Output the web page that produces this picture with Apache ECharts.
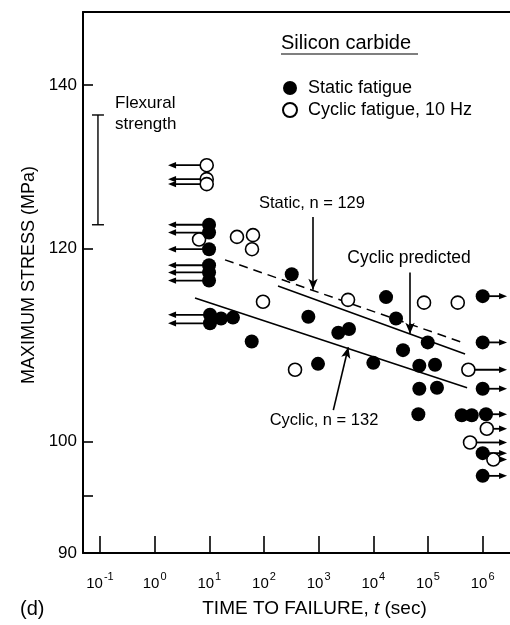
<!DOCTYPE html>
<html>
<head>
<meta charset="utf-8">
<title>Silicon carbide - static and cyclic fatigue</title>
<script src="https://cdn.jsdelivr.net/npm/echarts@6.0.0/dist/echarts.min.js"></script>
<style>
  html, body { margin: 0; padding: 0; background: #fff; }
  #chart { width: 510px; height: 625px; }
</style>
</head>
<body>
<div id="chart"></div>
<script>
// each point: time to failure t (sec), max stress (MPa), arrow (-1 left, 1 right, 0 none)
var staticFatigue = [
    [9.9, 122.7, -1], [9.9, 121.8, -1], [9.9, 119.9, -1], [9.9, 118.1, -1], [9.9, 117.3, -1], [9.9, 116.4, -1],
    [10.3, 112.7, -1], [10.3, 111.8, -1], [16.4, 112.3, 0], [27.1, 112.4, 0],
    [59.7, 109.9, 0], [322, 117.1, 0], [648, 112.5, 0], [974, 107.6, 0], [2290, 110.8, 0], [3594, 111.2, 0],
    [1.0e4, 107.7, 0], [1.71e4, 114.6, 0], [2.6e4, 112.3, 0], [3.49e4, 109.0, 0], [9.89e4, 109.8, 0],
    [6.94e4, 107.4, 0], [1.345e5, 107.5, 0], [6.94e4, 105.1, 0], [1.46e5, 105.2, 0], [6.66e4, 102.6, 0],
    [4.14e5, 102.5, 0], [6.31e5, 102.5, 0],
    [1.0e6, 114.7, 1], [1.0e6, 109.8, 1], [1.0e6, 105.1, 1], [1.15e6, 102.6, 1], [1.0e6, 98.9, 1], [1.0e6, 96.8, 1]
];
var cyclicFatigue = [
    [8.97, 129.8, -1], [8.97, 128.1, -1], [8.97, 127.5, -1],
    [6.5, 121.0, 0], [32.1, 121.3, 0], [63.0, 121.5, 0], [60.4, 119.9, 0],
    [96.0, 114.1, 0], [370, 107.0, 0], [3446, 114.3, 0], [8.46e4, 114.0, 0], [3.5e5, 114.0, 0],
    [5.47e5, 107.0, 1], [1.19e6, 101.2, 1], [5.87e5, 99.9, 1], [1.57e6, 98.3, 1]
];

// fitted lines (end points)
var staticFit = [[19.4, 118.7], [4.76e5, 109.7]];
var predictedFit = [[180.6, 115.8], [4.76e5, 108.6]];
var cyclicFit = [[5.48, 114.5], [5.18e5, 105.2]];

// annotation arrows: from, to
var staticArrow = [[789, 123.6], [789, 115.4]];
var predictedArrow = [[4.69e4, 117.3], [4.69e4, 110.7]];
var cyclicArrow = [[1855, 103.0], [3489, 109.3]];

// flexural strength range: t, low, high
var flexural = [[0.092, 122.7, 136.1]];

// runout arrows end at these times (left, right)
var arrowTips = [1.76, 2.79e6];

var xTicks = [0.1, 1, 10, 100, 1e3, 1e4, 1e5, 1e6];
var yLabels = [90, 100, 120, 140];
var yTicks = [90, 95, 100, 120, 140];

var FONT = '"Liberation Sans", Arial, Helvetica, sans-serif';

var chart = echarts.init(document.getElementById('chart'));

function renderRunout(params, api) {
    var dir = api.value(2);
    var p = api.coord([api.value(0), api.value(1)]);
    var tip = api.coord([dir < 0 ? arrowTips[0] : arrowTips[1], api.value(1)]);
    return {
        type: 'group',
        children: [
            { type: 'line', shape: { x1: p[0], y1: p[1], x2: tip[0] - dir * 6, y2: tip[1] },
              style: { stroke: '#000', lineWidth: 1.8 } },
            { type: 'polygon', shape: { points: [[tip[0], tip[1]], [tip[0] - dir * 8, tip[1] - 3.2], [tip[0] - dir * 8, tip[1] + 3.2]] },
              style: { fill: '#000' } }
        ]
    };
}

function renderRange(params, api) {
    var lo = api.coord([api.value(0), api.value(1)]);
    var hi = api.coord([api.value(0), api.value(2)]);
    var st = { stroke: '#000', lineWidth: 1.4 };
    return {
        type: 'group',
        children: [
            { type: 'line', shape: { x1: lo[0], y1: lo[1], x2: hi[0], y2: hi[1] }, style: st },
            { type: 'line', shape: { x1: lo[0] - 6, y1: lo[1], x2: lo[0] + 6, y2: lo[1] }, style: st },
            { type: 'line', shape: { x1: hi[0] - 6, y1: hi[1], x2: hi[0] + 6, y2: hi[1] }, style: st }
        ]
    };
}

function arrowMark(pts) {
    return {
        silent: true,
        symbol: ['none', 'arrow'],
        symbolSize: [7, 11],
        lineStyle: { color: '#000', width: 1.6, type: 'solid' },
        label: { show: false },
        data: [[{ coord: pts[0] }, { coord: pts[1] }]]
    };
}

var runouts = staticFatigue.concat(cyclicFatigue).filter(function (d) { return d[2] !== 0; });

function txt(text, x, y, size, align) {
    return {
        type: 'text', x: x, y: y,
        style: { text: text, font: size + 'px ' + FONT, fill: '#000',
                 textAlign: align || 'center', textVerticalAlign: 'middle' }
    };
}

var option = {
    animation: false,
    backgroundColor: '#fff',
    textStyle: { fontFamily: FONT, color: '#000' },
    title: {
        text: 'Silicon carbide', left: 281, top: 33, padding: 0,
        textStyle: { fontSize: 20, fontWeight: 'normal', color: '#000', fontFamily: FONT }
    },
    legend: {
        data: ['Static fatigue', 'Cyclic fatigue, 10 Hz'],
        orient: 'vertical', left: 282, top: 79, padding: 0,
        itemWidth: 14, itemHeight: 14, itemGap: 4, icon: 'circle',
        selectedMode: false,
        textStyle: { fontSize: 18, color: '#000', fontFamily: FONT, padding: [0, 0, 0, 6] }
    },
    grid: { left: 83, right: 0, top: 12, bottom: 72, outerBoundsMode: 'none' },
    xAxis: [{
        type: 'log', logBase: 10, min: 0.049, max: 3.16e6,
        position: 'bottom',
        axisLine: { lineStyle: { color: '#000', width: 2 } },
        axisTick: { inside: true, length: 17, customValues: xTicks, lineStyle: { color: '#000', width: 1.6 } },
        axisLabel: {
            customValues: xTicks, margin: 18, color: '#000',
            formatter: function (v) { return '{b|10}{s|' + Math.round(Math.log10(v)) + '}'; },
            rich: {
                b: { fontSize: 15, fontFamily: FONT, color: '#000', verticalAlign: 'bottom', lineHeight: 20 },
                s: { fontSize: 11, fontFamily: FONT, color: '#000', verticalAlign: 'bottom', lineHeight: 20, padding: [0, 0, 9, 1] }
            }
        },
        splitLine: { show: false },
        name: '{n|TIME TO FAILURE, }{i|t}{n| (sec)}',
        nameLocation: 'middle', nameGap: 46,
        nameTextStyle: {
            padding: [0, 0, 0, 36],
            rich: {
                n: { fontSize: 19, fontFamily: FONT, color: '#000' },
                i: { fontSize: 19, fontFamily: FONT, color: '#000', fontStyle: 'italic' }
            }
        }
    }, {
        type: 'log', logBase: 10, min: 0.049, max: 3.16e6,
        position: 'top',
        axisLine: { lineStyle: { color: '#000', width: 2 } },
        axisTick: { show: false }, axisLabel: { show: false }, splitLine: { show: false }
    }],
    yAxis: {
        type: 'log', logBase: 10, min: 90, max: 150,
        axisLine: { show: true, lineStyle: { color: '#000', width: 2 } },
        axisTick: { show: true, inside: true, length: 10, customValues: yTicks, lineStyle: { color: '#000', width: 1.6 } },
        axisLabel: { customValues: yLabels, margin: 6, fontSize: 17, color: '#000', fontFamily: FONT },
        splitLine: { show: false },
        name: 'MAXIMUM STRESS (MPa)',
        nameLocation: 'middle', nameGap: 44, nameRotate: 90,
        nameTextStyle: { fontSize: 18, color: '#000', fontFamily: FONT, padding: [0, 0, 0, 15] }
    },
    series: [
        {
            type: 'custom', name: 'runout', data: runouts, renderItem: renderRunout,
            encode: { x: 0, y: 1 }, z: 2, silent: true, clip: false
        },
        {
            type: 'custom', name: 'Flexural strength', data: flexural, renderItem: renderRange,
            encode: { x: 0, y: [1, 2] }, z: 2, silent: true, clip: false
        },
        {
            type: 'line', name: 'Static, n=129', data: staticFit, symbol: 'none', z: 2,
            lineStyle: { color: '#000', width: 1.5, type: [9, 6] },
            markLine: arrowMark(staticArrow)
        },
        {
            type: 'line', name: 'Cyclic predicted', data: predictedFit, symbol: 'none', z: 2,
            lineStyle: { color: '#000', width: 1.5 },
            markLine: arrowMark(predictedArrow)
        },
        {
            type: 'line', name: 'Cyclic, n=132', data: cyclicFit, symbol: 'none', z: 2,
            lineStyle: { color: '#000', width: 1.5 },
            markLine: arrowMark(cyclicArrow)
        },
        {
            type: 'scatter', name: 'Cyclic fatigue, 10 Hz', data: cyclicFatigue,
            symbol: 'circle', symbolSize: 13, z: 3,
            itemStyle: { color: '#fff', borderColor: '#000', borderWidth: 1.6, opacity: 1 }
        },
        {
            type: 'scatter', name: 'Static fatigue', data: staticFatigue,
            symbol: 'circle', symbolSize: 14, z: 4,
            itemStyle: { color: '#000', opacity: 1 }
        }
    ],
    graphic: [
        { type: 'line', shape: { x1: 281, y1: 54, x2: 418, y2: 54 }, style: { stroke: '#000', lineWidth: 1.2 } },
        txt('Flexural', 115, 103, 17, 'left'),
        txt('strength', 115, 124, 17, 'left'),
        txt('Static, n = 129', 312, 203, 16.5),
        txt('Cyclic predicted', 409, 258, 17.5),
        txt('Cyclic, n = 132', 324, 420, 16.5),
        txt('(d)', 20, 609, 20, 'left')
    ]
};

chart.setOption(option);
</script>
</body>
</html>
